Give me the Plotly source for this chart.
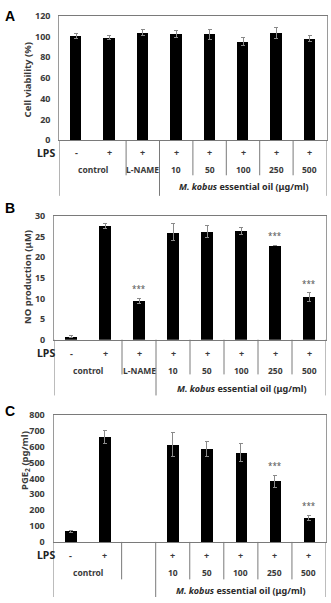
import plotly.graph_objects as go

W, H = 331, 603

# ---------------- data ----------------
lps_signs = ["-", "+", "+", "+", "+", "+", "+", "+"]
lps_signs_c = ["-", "+", "", "+", "+", "+", "+", "+"]
group_labels = ["control", "L-NAME", "10", "50", "100", "250", "500"]
group_labels_c = ["control", "", "10", "50", "100", "250", "500"]
group_pos = [0.5, 2, 3, 4, 5, 6, 7]
oil_label = "<i>M. kobus</i> essential oil (μg/ml)"

viability = [100.3, 99.2, 104.0, 102.2, 102.2, 95.2, 103.4, 97.8]
viability_err = [2.3, 2.0, 2.8, 3.3, 4.8, 4.0, 5.3, 3.0]

no_prod = [0.7, 27.5, 9.4, 26.0, 26.2, 26.3, 22.8, 10.3]
no_prod_err = [0.2, 0.6, 0.6, 2.1, 1.4, 0.8, 0.1, 1.1]
no_sig = [2, 6, 7]

pge2 = [66, 663, None, 613, 585, 562, 381, 151]
pge2_err = [4, 40, 0, 77, 46, 56, 40, 18]
pge2_sig = [6, 7]

# ---------------- layout helpers ----------------
def px_x(p):
    return p / W

def px_y(p):
    return 1 - p / H

panels = [
    dict(key="", letter="A", vals=viability, errs=viability_err, sig=[],
         yrange=[0, 120], dtick=20, ytitle="Cell viability (%)",
         top=9, bottom=136, left=59.3, right=326.5,
         lps_y=149, lab_y=166, grp_y=183.5, short_end=172, long_end=193,
         title_xy=(27, 75), letter_y=9,
         signs=lps_signs, labels=group_labels, long_lines=[-0.5, 2.5, 7.5],
         short_lines=[1.5, 3.5, 4.5, 5.5, 6.5]),
    dict(key="2", letter="B", vals=no_prod, errs=no_prod_err, sig=no_sig,
         yrange=[0, 30], dtick=5, ytitle="NO production (μM)",
         top=213.3, bottom=340, left=54, right=326,
         lps_y=354, lab_y=371.7, grp_y=390, short_end=375.5, long_end=397,
         title_xy=(27, 276), letter_y=205,
         signs=lps_signs, labels=group_labels, long_lines=[-0.5, 2.5, 7.5],
         short_lines=[1.5, 3.5, 4.5, 5.5, 6.5]),
    dict(key="3", letter="C", vals=pge2, errs=pge2_err, sig=pge2_sig,
         yrange=[0, 800], dtick=100, ytitle="PGE<sub>2</sub> (pg/ml)",
         top=417, bottom=546.7, left=53.5, right=326,
         lps_y=560.5, lab_y=578.3, grp_y=596.7, short_end=585, long_end=603,
         title_xy=(25, 464), letter_y=413,
         signs=lps_signs_c, labels=group_labels_c, long_lines=[-0.5, 2.5, 7.5],
         short_lines=[1.5, 3.5, 4.5, 5.5, 6.5]),
]

FONT = "Noto Sans"
TXT = "#3a3a3a"

fig = go.Figure()
annotations = []
shapes = []
layout_axes = {}

xs = list(range(8))

for p in panels:
    k = p["key"]
    xa = "x" + k
    ya = "y" + k
    fig.add_trace(go.Bar(
        x=xs, y=p["vals"], xaxis=xa, yaxis=ya,
        marker=dict(color="#000000", line=dict(width=0)),
        width=0.34,
        error_y=dict(type="data", array=p["errs"], visible=True,
                     color="#8a8a8a", thickness=1, width=2),
        showlegend=False, hoverinfo="skip",
    ))
    layout_axes["xaxis" + k] = dict(
        domain=[px_x(p["left"]), px_x(p["right"])],
        range=[-0.5, 7.5], anchor=ya, showticklabels=False, ticks="",
        showgrid=False, zeroline=False, showline=True, mirror=True,
        linecolor="#7a7a7a", linewidth=1, fixedrange=True,
    )
    layout_axes["yaxis" + k] = dict(
        domain=[px_y(p["bottom"]), px_y(p["top"])],
        range=p["yrange"], dtick=p["dtick"], anchor=xa,
        showgrid=False, zeroline=False, showline=True, mirror=True,
        linecolor="#9a9a9a", linewidth=1, ticks="",
        ticklabelstandoff=6,
        tickfont=dict(family=FONT, size=9, color=TXT, weight="bold"),
        fixedrange=True,
    )
    # significance stars
    for i in p["sig"]:
        annotations.append(dict(
            x=i, y=p["vals"][i] + p["errs"][i], xref=xa, yref=ya,
            text="***", showarrow=False, yanchor="bottom", yshift=2,
            font=dict(family=FONT, size=8, color="#555555"),
        ))
    # panel letter
    annotations.append(dict(
        x=px_x(3), y=px_y(p["letter_y"]), xref="paper", yref="paper",
        text="<b>%s</b>" % p["letter"], showarrow=False,
        xanchor="left", yanchor="middle",
        font=dict(family="Liberation Sans", size=14, color="#000000"),
    ))
    # y axis title
    tx, ty = p["title_xy"]
    annotations.append(dict(
        x=px_x(tx), y=px_y(ty), xref="paper", yref="paper",
        text="<b>%s</b>" % p["ytitle"], showarrow=False, textangle=-90,
        xanchor="center", yanchor="middle",
        font=dict(family=FONT, size=9.5, color=TXT),
    ))
    # LPS label
    annotations.append(dict(
        x=px_x(46), y=px_y(p["lps_y"]), xref="paper", yref="paper",
        text="<b>LPS</b>", showarrow=False, xanchor="center", yanchor="middle",
        font=dict(family=FONT, size=10.5, color="#222222"),
    ))
    for i, s in enumerate(p["signs"]):
        if s:
            annotations.append(dict(
                x=i, y=px_y(p["lps_y"]), xref=xa, yref="paper",
                text="<b>%s</b>" % s, showarrow=False, yanchor="middle",
                font=dict(family=FONT, size=9, color=TXT),
            ))
    for pos, lab in zip(group_pos, p["labels"]):
        if lab:
            annotations.append(dict(
                x=pos, y=px_y(p["lab_y"]), xref=xa, yref="paper",
                text="<b>%s</b>" % lab, showarrow=False, yanchor="middle",
                font=dict(family=FONT, size=8.5, color=TXT),
            ))
    annotations.append(dict(
        x=5, y=px_y(p["grp_y"]), xref=xa, yref="paper",
        text="<b>%s</b>" % oil_label, showarrow=False, yanchor="middle",
        font=dict(family=FONT, size=9, color="#2a2a2a"),
    ))
    for lx in p["long_lines"]:
        shapes.append(dict(type="line", xref=xa, yref="paper",
                           x0=lx, x1=lx, y0=px_y(p["bottom"]), y1=px_y(p["long_end"]),
                           line=dict(color="#7a7a7a", width=1)))
    for lx in p["short_lines"]:
        shapes.append(dict(type="line", xref=xa, yref="paper",
                           x0=lx, x1=lx, y0=px_y(p["bottom"]), y1=px_y(p["short_end"]),
                           line=dict(color="#7a7a7a", width=1)))

fig.update_layout(
    width=W, height=H,
    margin=dict(l=0, r=0, t=0, b=0),
    paper_bgcolor="white", plot_bgcolor="white",
    annotations=annotations, shapes=shapes,
    bargap=0, showlegend=False,
    **layout_axes,
)

fig.write_html("out.html", config={"displayModeBar": False})
